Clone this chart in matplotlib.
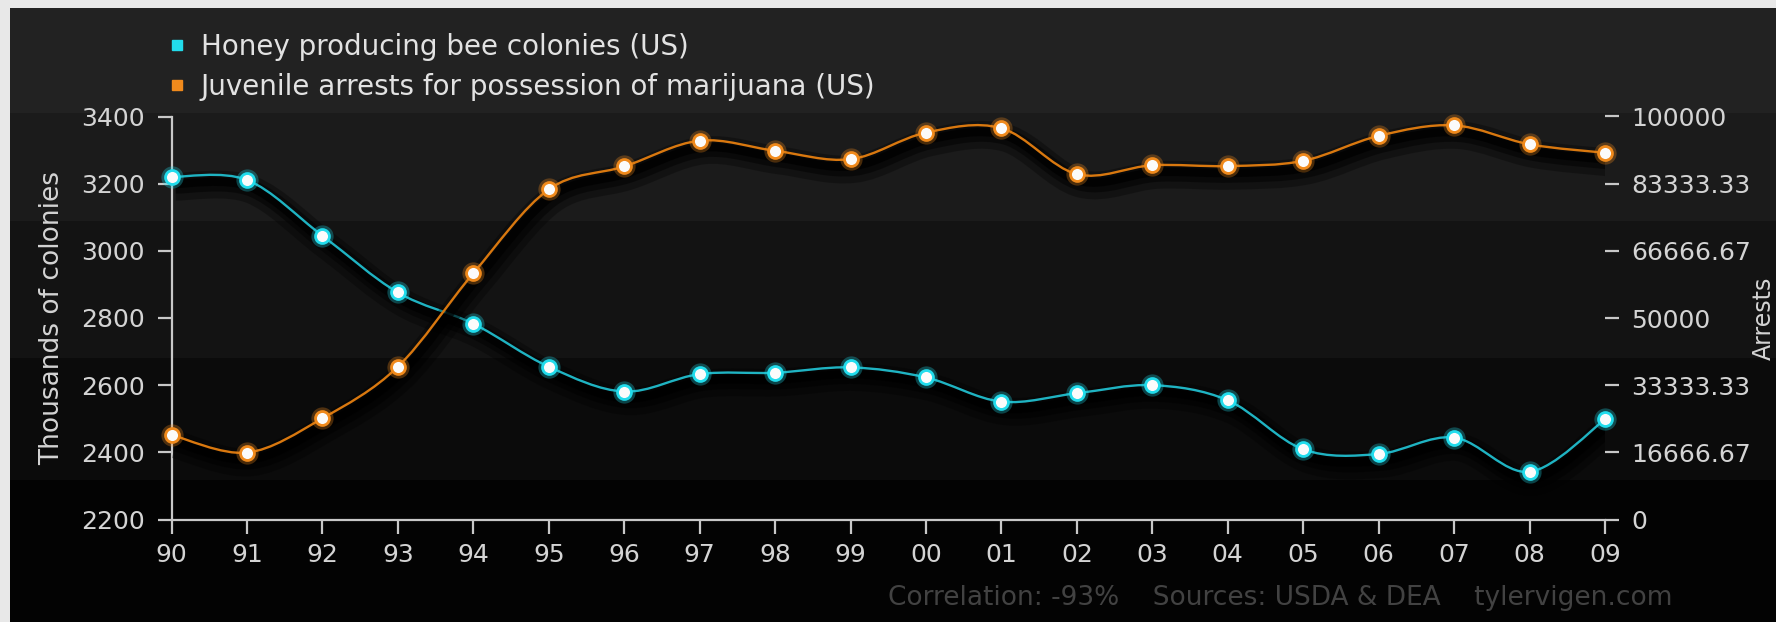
import numpy as np
import matplotlib
matplotlib.use('Agg')
import matplotlib.pyplot as plt
import matplotlib.patches as patches
import matplotlib.patheffects as pe
from matplotlib.path import Path
from matplotlib.lines import Line2D

years = list(range(1990, 2010))
year_labels = ['90', '91', '92', '93', '94', '95', '96', '97', '98', '99',
               '00', '01', '02', '03', '04', '05', '06', '07', '08', '09']
bee_colonies = [3220, 3211, 3045, 2876, 2783, 2655, 2581, 2633, 2637, 2653,
                2623, 2551, 2576, 2600, 2555, 2409, 2395, 2444, 2342, 2498]
arrests = [21000, 16600, 25100, 37900, 61100, 81900, 87600, 94000, 91500, 89400,
           96000, 97100, 85700, 87900, 87700, 89000, 95200, 97800, 93100, 91000]
left_ticks = [2200, 2400, 2600, 2800, 3000, 3200, 3400]
right_ticks = [0, 16666.67, 33333.33, 50000, 66666.67, 83333.33, 100000]
right_labels = ['0', '16666.67', '33333.33', '50000', '66666.67', '83333.33', '100000']

W, H = 1776, 622
CYAN, CYAN_LINE = '#22dcec', '#1fb3c2'
ORANGE, ORANGE_LINE = '#f08a1c', '#d9780f'
AXIS = '#c8c8c8'
TEXT = '#d4d4d4'

fig = plt.figure(figsize=(W / 100, H / 100), dpi=100, facecolor='#e8e8e8')

# dark panel with stepped vertical gradient
bands = [(8, 113, '#222222'), (113, 221, '#1b1b1b'), (221, 358, '#131313'),
         (358, 480, '#0b0b0b'), (480, 622, '#030303')]
for top, bot, col in bands:
    fig.add_artist(patches.Rectangle((10 / W, 1 - bot / H), 1 - 10 / W, (bot - top) / H,
                                     transform=fig.transFigure, facecolor=col,
                                     edgecolor='none', zorder=0))

ax = fig.add_axes([171.5 / W, 1 - 519.5 / H, (1605 - 171.5) / W, (519.5 - 116.5) / H])
ax.set_facecolor('none')
ax2 = ax.twinx()
ax2.set_facecolor('none')


def smooth_path(xs, ys):
    # Catmull-Rom spline as cubic Bezier segments
    p = np.column_stack([xs, ys]).astype(float)
    verts = [p[0]]
    codes = [Path.MOVETO]
    n = len(p)
    for i in range(n - 1):
        p0 = p[i - 1] if i > 0 else p[i]
        p3 = p[i + 2] if i + 2 < n else p[i + 1]
        c1 = p[i] + (p[i + 1] - p0) / 6
        c2 = p[i + 1] - (p3 - p[i]) / 6
        verts += [c1, c2, p[i + 1]]
        codes += [Path.CURVE4] * 3
    return Path(verts, codes)


shadow = [pe.SimpleLineShadow(offset=(3, -7), shadow_color='black', alpha=0.3, linewidth=20),
          pe.SimpleLineShadow(offset=(3, -6), shadow_color='black', alpha=0.45, linewidth=12),
          pe.SimpleLineShadow(offset=(2, -5), shadow_color='black', alpha=0.7, linewidth=6),
          pe.Normal()]


def draw_series(a, ys, line_col, glow_col):
    patch = patches.PathPatch(smooth_path(years, ys), facecolor='none', edgecolor=line_col,
                              linewidth=1.7, zorder=3, path_effects=shadow)
    a.add_patch(patch)
    a.plot(years, ys, 'o', ms=16, color=glow_col, alpha=0.3, mec='none', zorder=4, clip_on=False)
    a.plot(years, ys, 'o', ms=10, mfc='#fbfbfb', mec=glow_col, mew=2, zorder=5, clip_on=False)


draw_series(ax, bee_colonies, CYAN_LINE, CYAN)
draw_series(ax2, arrests, ORANGE_LINE, ORANGE)

ax.set_xlim(1990, 2009)
ax.set_ylim(2200, 3400)
ax2.set_ylim(0, 100000)

ax.set_xticks(years)
ax.set_xticklabels(year_labels)
ax.set_yticks(left_ticks)
ax2.set_yticks(right_ticks)
ax2.set_yticklabels(right_labels)

for s in ['top', 'right']:
    ax.spines[s].set_visible(False)
for s in ax2.spines.values():
    s.set_visible(False)
for s in ['left', 'bottom']:
    ax.spines[s].set_color(AXIS)
    ax.spines[s].set_linewidth(1.6)

ax.tick_params(axis='both', direction='out', length=10, width=1.6, color=AXIS,
               labelcolor=TEXT, labelsize=18)
ax.tick_params(axis='y', pad=9)
ax.tick_params(axis='x', pad=7)
ax2.tick_params(axis='y', direction='out', length=10, width=1.6, color=AXIS,
                labelcolor=TEXT, labelsize=18, pad=9)

ax.set_ylabel('Thousands of colonies', color=TEXT, fontsize=19, labelpad=12)
fig.text(1764 / W, 1 - 318 / H, 'Arrests', rotation=90, color=TEXT, fontsize=17,
         ha='center', va='center')

handles = [Line2D([], [], marker='s', ls='none', color=CYAN, ms=7),
           Line2D([], [], marker='s', ls='none', color=ORANGE, ms=7)]
fig.legend(handles, ['Honey producing bee colonies (US)',
                     'Juvenile arrests for possession of marijuana (US)'],
           loc='upper left', bbox_to_anchor=(166 / W, 1 - 33 / H), frameon=False,
           labelcolor='#e2e2e2', fontsize=20, handletextpad=0.45, labelspacing=0.42,
           handlelength=0.8, borderaxespad=0, borderpad=0)

fig.text(1672 / W, 1 - 598 / H, 'Correlation: -93%    Sources: USDA & DEA    tylervigen.com',
         color='#424242', fontsize=19, ha='right', va='center')

fig.savefig('out.png', dpi=100, facecolor=fig.get_facecolor())
